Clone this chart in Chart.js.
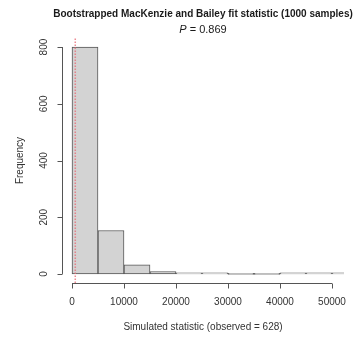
<!DOCTYPE html>
<html>
<head>
<meta charset="utf-8">
<script src="https://cdn.jsdelivr.net/npm/chart.js@4/dist/chart.umd.min.js"></script>
<style>
  html, body { margin: 0; padding: 0; background: #fff; }
  #wrap { width: 361px; height: 337px; }
</style>
</head>
<body>
<div id="wrap"><canvas id="hist"></canvas></div>
<script>
// histogram bins (left edges, width 5000) and counts out of 1000 samples
const binStarts = [0, 5000, 10000, 15000, 20000, 25000, 30000, 35000, 40000, 45000, 50000];
const binWidth = 5000;
const counts = [800, 153, 32, 8, 3, 1, 0, 0, 1, 1, 1];
const observed = 628;
const pValue = '0.869';
const xTicks = [0, 10000, 20000, 30000, 40000, 50000];
const yTicks = [0, 200, 400, 600, 800];
const xRange = [-1923, 52308];
const yRange = [-32, 832];

const titleText = 'Bootstrapped MacKenzie and Bailey fit statistic (1000 samples)';
const xTitle = 'Simulated statistic (observed = ' + observed + ')';
const yTitle = 'Frequency';

const FONT = '"Liberation Sans", Arial, sans-serif';
const AXIS = '#555';

// R-like axes, labels and titles drawn on top of the library scales
const baseAxes = {
    id: 'baseAxes',
    afterDraw(chart) {
        const ctx = chart.ctx;
        const x = chart.scales.x, y = chart.scales.y;
        const area = chart.chartArea;
        ctx.save();
        ctx.strokeStyle = AXIS;
        ctx.fillStyle = '#333';
        ctx.lineWidth = 1;

        // x axis
        const axY = Math.round(area.bottom) + 0.5;
        ctx.beginPath();
        ctx.moveTo(x.getPixelForValue(xTicks[0]), axY);
        ctx.lineTo(x.getPixelForValue(xTicks[xTicks.length - 1]), axY);
        xTicks.forEach(function (t) {
            const px = Math.round(x.getPixelForValue(t)) + 0.5;
            ctx.moveTo(px, axY);
            ctx.lineTo(px, axY + 5);
        });
        ctx.stroke();
        ctx.font = '10px ' + FONT;
        ctx.textAlign = 'center';
        ctx.textBaseline = 'middle';
        xTicks.forEach(function (t) {
            ctx.fillText(String(t), x.getPixelForValue(t), 302);
        });

        // y axis
        const axX = Math.round(area.left) + 0.5;
        ctx.beginPath();
        ctx.moveTo(axX, y.getPixelForValue(yTicks[0]));
        ctx.lineTo(axX, y.getPixelForValue(yTicks[yTicks.length - 1]));
        yTicks.forEach(function (t) {
            const py = Math.round(y.getPixelForValue(t)) + 0.5;
            ctx.moveTo(axX, py);
            ctx.lineTo(axX - 5, py);
        });
        ctx.stroke();
        yTicks.forEach(function (t) {
            ctx.save();
            ctx.translate(44, y.getPixelForValue(t));
            ctx.rotate(-Math.PI / 2);
            ctx.fillText(String(t), 0, 0);
            ctx.restore();
        });

        // axis titles
        ctx.fillText(xTitle, (area.left + area.right) / 2, 327);
        ctx.save();
        ctx.translate(20, (area.top + area.bottom) / 2);
        ctx.rotate(-Math.PI / 2);
        ctx.fillText(yTitle, 0, 0);
        ctx.restore();

        // main title and P value
        const cx = (area.left + area.right) / 2;
        ctx.fillStyle = '#1a1a1a';
        ctx.font = 'bold 10px ' + FONT;
        ctx.fillText(titleText, cx, 14);
        const rest = ' = ' + pValue;
        ctx.font = 'italic 11px ' + FONT;
        const wP = ctx.measureText('P').width;
        ctx.font = '11px ' + FONT;
        const wR = ctx.measureText(rest).width;
        const sx = cx - (wP + wR) / 2;
        ctx.textAlign = 'left';
        ctx.font = 'italic 11px ' + FONT;
        ctx.fillText('P', sx, 30);
        ctx.font = '11px ' + FONT;
        ctx.fillText(rest, sx + wP, 30);
        ctx.restore();
    }
};

const ctx = document.getElementById('hist');
const histChart = new Chart(ctx, {
    type: 'bar',
    data: {
        datasets: [{
            type: 'line',
            label: 'observed',
            data: [{x: observed, y: yRange[0]}, {x: observed, y: yRange[1]}],
            borderColor: 'rgba(232, 110, 120, 0.8)',
            borderWidth: 1.5,
            borderDash: [1.5, 1.5],
            pointRadius: 0,
            order: 0
        }, {
            label: 'Frequency',
            data: binStarts.map(function (b, i) {
                return {x: b + binWidth / 2, y: counts[i]};
            }),
            backgroundColor: '#d3d3d3',
            borderColor: '#555',
            borderWidth: 1,
            borderSkipped: false,
            minBarLength: 1,
            barPercentage: 1,
            categoryPercentage: 1,
            order: 1
        }]
    },
    options: {
        responsive: true,
        maintainAspectRatio: false,
        animation: false,
        layout: {
            padding: {left: 62, right: 17, top: 38, bottom: 54}
        },
        plugins: {
            legend: {display: false},
            tooltip: {enabled: false},
            title: {display: false}
        },
        scales: {
            x: {
                type: 'linear',
                display: false,
                offset: false,
                min: xRange[0],
                max: xRange[1],
                grid: {offset: false}
            },
            y: {
                type: 'linear',
                display: false,
                min: yRange[0],
                max: yRange[1]
            }
        }
    },
    plugins: [baseAxes]
});
</script>
</body>
</html>
